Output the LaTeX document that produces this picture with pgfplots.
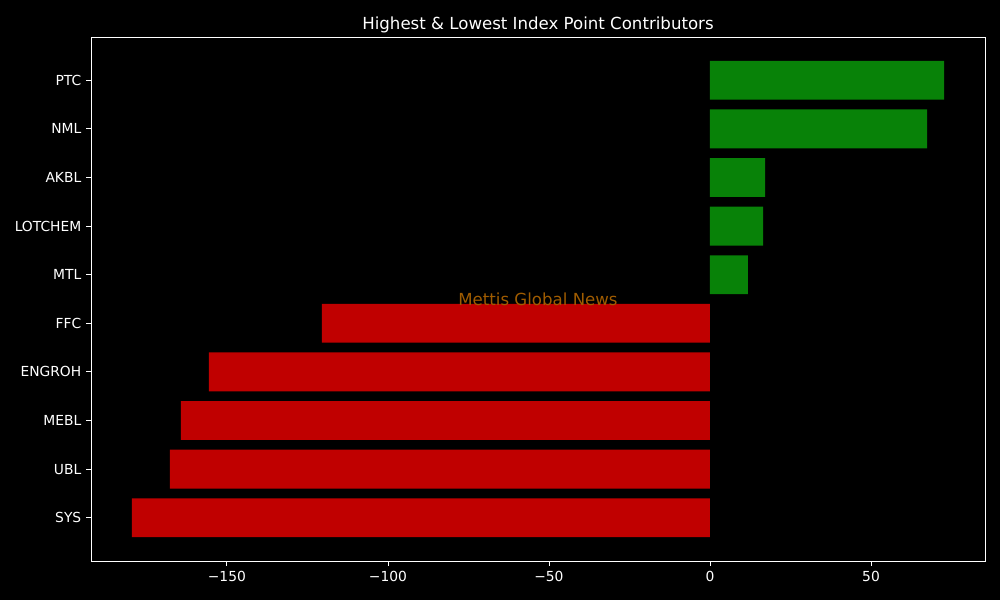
\documentclass[border=0pt]{standalone}
\usepackage{fontspec}
\setmainfont{DejaVu Sans}
\usepackage{pgfplots}
\pgfplotsset{compat=1.18}
\definecolor{barGreen}{HTML}{088208}
\definecolor{barRed}{HTML}{C00000}
\definecolor{wmark}{HTML}{A05C00}
\begin{document}
\begin{tikzpicture}
  \fill[black] (-0.91in,-0.39in) rectangle (9.09in,5.61in);
  \useasboundingbox (-0.91in,-0.39in) rectangle (9.09in,5.61in);
  \begin{axis}[
    at={(0,0)}, anchor=south west,
    scale only axis,
    width=8.94in, height=5.24in,
    xmin=-192.2, xmax=85.4,
    ymin=-0.89, ymax=9.89,
    xbar, bar width=0.8, bar shift=0pt,
    axis line style={white, line width=0.6pt},
    tick style={white, line width=0.6pt},
    tick align=outside,
    major tick length=3.5pt,
    xtick={-150,-100,-50,0,50},
    xticklabels={−150,−100,−50,0,50},
    ytick={0,...,9},
    yticklabels={SYS,UBL,MEBL,ENGROH,FFC,MTL,LOTCHEM,AKBL,NML,PTC},
    tick label style={font=\fontsize{10pt}{12pt}\selectfont, text=white},
    xtick pos=bottom, ytick pos=left,
    title={Highest \& Lowest Index Point Contributors},
    title style={font=\fontsize{12pt}{14pt}\selectfont, text=white, yshift=-6.8pt},
    clip=false,
  ]
    \addplot[fill=barGreen, draw=none] coordinates {(72.7,9) (67.4,8) (17.1,7) (16.5,6) (11.8,5)};
    \addplot[fill=barRed, draw=none] coordinates {(-120.5,4) (-155.6,3) (-164.3,2) (-167.7,1) (-179.5,0)};
    \node[text=wmark, font=\fontsize{12pt}{14pt}\selectfont] at (rel axis cs:0.5,0.5) {Mettis Global News};
  \end{axis}
\end{tikzpicture}
\end{document}
